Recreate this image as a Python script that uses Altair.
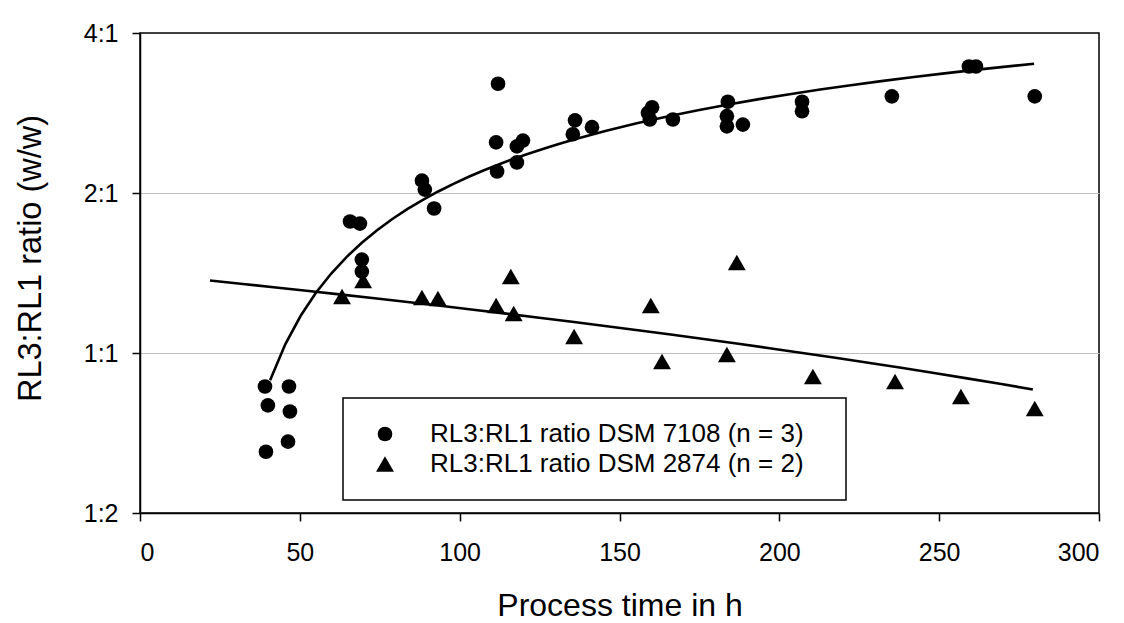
import altair as alt
import pandas as pd

# ---- data ----
# DSM 7108 (circles): process time (h) and RL3:RL1 ratio
c_time = [39.1, 40.0, 39.4, 46.6, 46.9, 46.3, 65.7, 68.8, 69.4, 69.4,
          88.2, 89.1, 92.0, 112.0, 111.4, 111.7, 117.9, 119.8, 117.9,
          136.1, 135.4, 141.4, 160.2, 158.9, 159.5, 166.7, 183.9, 183.6,
          183.6, 188.6, 207.1, 207.1, 235.2, 259.3, 261.5, 279.9]
c_ratio = [0.865, 0.797, 0.652, 0.865, 0.776, 0.681, 1.768, 1.752, 1.499, 1.423,
           2.11, 2.03, 1.87, 3.21, 2.49, 2.195, 2.447, 2.51, 2.283,
           2.74, 2.58, 2.66, 2.90, 2.83, 2.75, 2.75, 2.97, 2.79,
           2.67, 2.69, 2.97, 2.85, 3.04, 3.46, 3.46, 3.04]

# DSM 2874 (triangles)
t_time = [63.2, 69.8, 88.2, 93.2, 111.4, 116.0, 116.9, 135.8, 159.8, 163.3,
          186.7, 183.6, 210.5, 236.2, 256.8, 279.9]
t_ratio = [1.277, 1.369, 1.272, 1.266, 1.228, 1.393, 1.187, 1.074, 1.228, 0.964,
           1.48, 0.994, 0.903, 0.884, 0.828, 0.786]

# points
trend_c_time = [40.7, 55.8, 68.3, 90.7, 122.0, 133.5, 175.2, 237.7, 279.7]
trend_c_ratio = [0.885, 1.307, 1.566, 2.007, 2.363, 2.54, 2.88, 3.27, 3.48]
trend_t_time = [21.9, 150.1, 279.3]
trend_t_ratio = [1.369, 1.115, 0.854]

x_ticks = [0, 50, 100, 150, 200, 250, 300]
y_ticks = [0.5, 1, 2, 4]

lab_c = "RL3:RL1 ratio DSM 7108 (n = 3)"
lab_t = "RL3:RL1 ratio DSM 2874 (n = 2)"

points = pd.DataFrame({
    "t": c_time + t_time,
    "r": c_ratio + t_ratio,
    "s": [lab_c] * len(c_time) + [lab_t] * len(t_time),
})
trend_c = pd.DataFrame({"t": trend_c_time, "r": trend_c_ratio})
trend_t = pd.DataFrame({"t": trend_t_time, "r": trend_t_ratio})

FONT = "Liberation Sans"
BLANK = "\u2800"  # blank filler to widen the legend box on the right

xs = alt.Scale(domain=[0, 300], nice=False, zero=False)
ys = alt.Scale(type="log", base=2, domain=[0.5, 4], nice=False)

x_axis = alt.Axis(
    values=x_ticks, grid=False, title="Process time in h",
    tickSize=8, labelPadding=19, labelFontSize=25,
    titleFontSize=32, titleY=77,
)
y_axis = alt.Axis(
    values=y_ticks, title="RL3:RL1 ratio (w/w)",
    labelExpr="datum.value >= 1 ? format(datum.value, 'd') + ':1' : '1:' + format(1 / datum.value, 'd')",
    tickSize=8, labelPadding=14, labelFontSize=25,
    titleFontSize=32.5, titleX=-93, titleY=225,
    grid=True, gridColor="#c0c0c0", gridWidth=1.2,
    gridOpacity={"condition": {"test": "datum.value == 1 || datum.value == 2", "value": 1}, "value": 0},
)

X = alt.X("t:Q", scale=xs, axis=x_axis)
Y = alt.Y("r:Q", scale=ys, axis=y_axis)

legend = alt.Legend(
    title=None, orient="none", legendX=203, legendY=365,
    labelExpr="datum.label + '" + BLANK + "'",
)

pts = alt.Chart(points).mark_point(filled=True, opacity=1, color="black").encode(
    x=X,
    y=Y,
    shape=alt.Shape(
        "s:N",
        scale=alt.Scale(domain=[lab_c, lab_t], range=["circle", "triangle-up"]),
        legend=legend,
    ),
    size=alt.Size(
        "s:N",
        scale=alt.Scale(domain=[lab_c, lab_t], range=[215, 320]),
        legend=legend,
    ),
)

line_c = alt.Chart(trend_c).transform_regression(
    "t", "r", method="log", extent=[40.7, 279.7]
).mark_line(color="black", strokeWidth=2.6).encode(x=X, y=Y)

line_t = alt.Chart(trend_t).transform_regression(
    "t", "r", method="poly", order=2, extent=[21.9, 279.3]
).mark_line(color="black", strokeWidth=2.6).encode(x=X, y=Y)

chart = alt.layer(line_c, line_t, pts).properties(
    width=959, height=480,
    autosize=alt.AutoSizeParams(type="none"),
    padding={"left": 140, "top": 33, "right": 25, "bottom": 110},
    background="white",
).configure_view(
    stroke="black", strokeWidth=1.5
).configure_axis(
    domainColor="black", domainWidth=1.5, tickColor="black", tickWidth=1.5,
    labelColor="black", titleColor="black", labelFont=FONT, titleFont=FONT,
    titleFontWeight="normal",
).configure_legend(
    strokeColor="black", strokeWidth=1.5, fillColor="white", padding=23,
    labelFont=FONT, labelFontSize=26, labelColor="black", labelLimit=1000,
    symbolOffset=6, labelOffset=32, rowPadding=4,
    symbolStrokeWidth=0, symbolFillColor="black",
)

chart.save("out.html", embed_options={"renderer": "svg", "actions": False})
